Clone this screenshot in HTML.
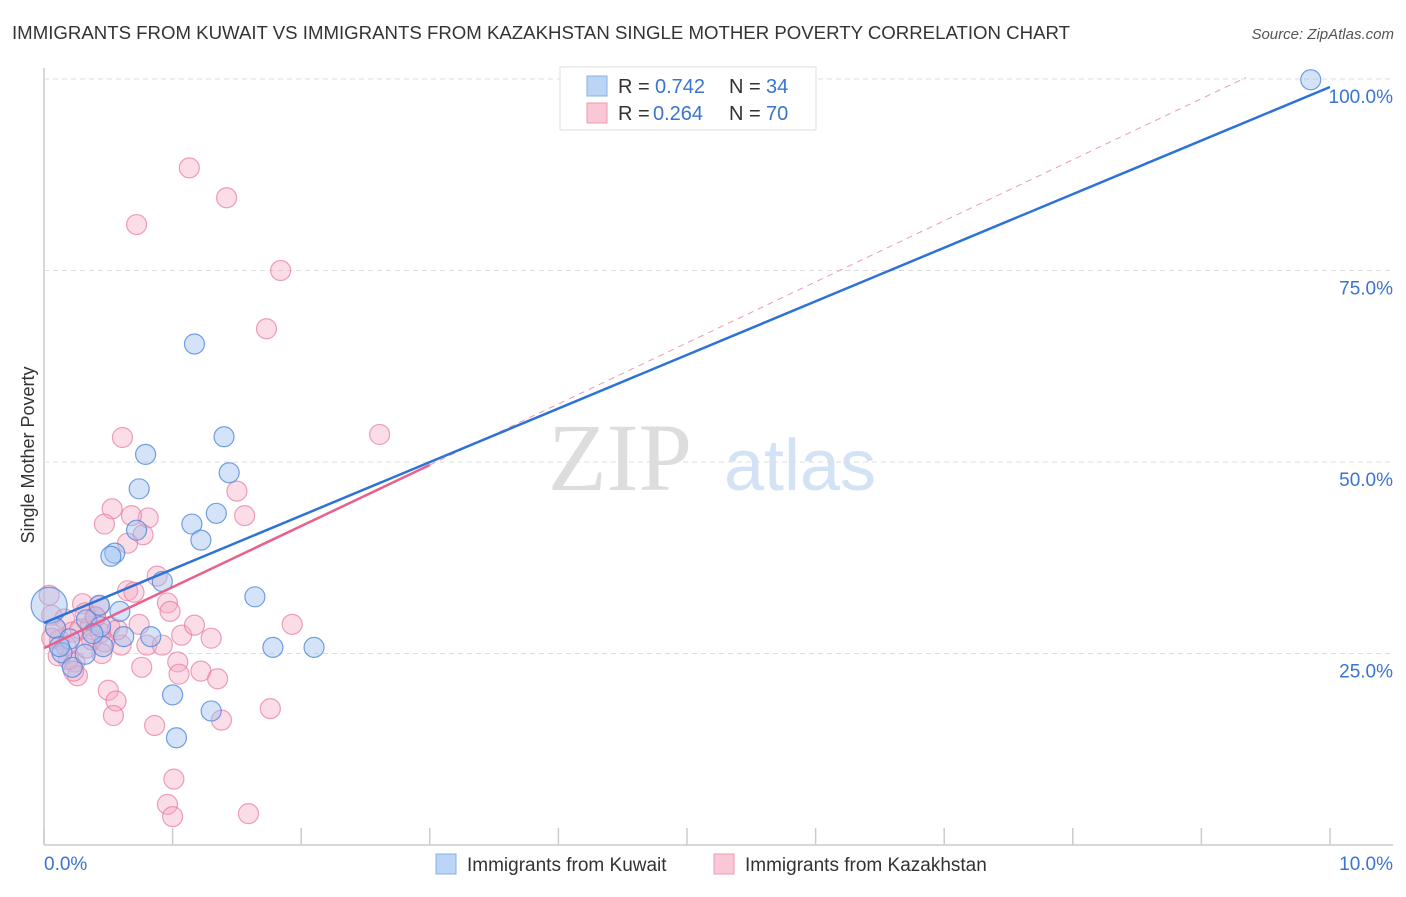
<!DOCTYPE html>
<html><head><meta charset="utf-8"><style>
body{margin:0;background:#fff;font-family:"Liberation Sans",sans-serif}
</style></head><body>
<svg id="c" width="1406" height="892" xmlns="http://www.w3.org/2000/svg" style="font-family:'Liberation Sans',sans-serif">
<text x="12" y="39" font-size="18" fill="#333" textLength="1058" lengthAdjust="spacingAndGlyphs">IMMIGRANTS FROM KUWAIT VS IMMIGRANTS FROM KAZAKHSTAN SINGLE MOTHER POVERTY CORRELATION CHART</text>
<text x="1394" y="39" font-size="15" fill="#555" font-style="italic" text-anchor="end">Source: ZipAtlas.com</text>
<text x="620" y="490" font-size="96" fill="#ddd" font-family="Liberation Serif" text-anchor="middle">ZIP</text>
<text x="800" y="490" font-size="72" fill="#d4e2f5" text-anchor="middle">atlas</text>
<text transform="translate(34,455) rotate(-90)" font-size="18" fill="#333" text-anchor="middle">Single Mother Poverty</text>
<g id="grid"></g><g id="pts"></g><g id="lines"></g>
<g>
<rect x="560" y="67" width="256" height="63" fill="#fff" stroke="#ddd"/>
<rect x="587" y="76" width="20" height="20" fill="#bcd4f5" stroke="#8ab0e8"/>
<rect x="587" y="103" width="20" height="20" fill="#f9c7d5" stroke="#f09ab3"/>
<text x="618" y="93" font-size="20" fill="#333">R =</text>
<text x="655" y="93" font-size="20" fill="#3a74d0">0.742</text>
<text x="729" y="93" font-size="20" fill="#333">N =</text>
<text x="766" y="93" font-size="20" fill="#3a74d0">34</text>
<text x="618" y="120" font-size="20" fill="#333">R =</text>
<text x="653" y="120" font-size="20" fill="#3a74d0">0.264</text>
<text x="729" y="120" font-size="20" fill="#333">N =</text>
<text x="766" y="120" font-size="20" fill="#3a74d0">70</text>
</g>
<g>
<rect x="436" y="854" width="20" height="20" fill="#bcd4f5" stroke="#8ab0e8"/>
<text x="467" y="871" font-size="19" fill="#333">Immigrants from Kuwait</text>
<rect x="714" y="854" width="20" height="20" fill="#f9c7d5" stroke="#f09ab3"/>
<text x="745" y="871" font-size="19" fill="#333">Immigrants from Kazakhstan</text>
</g>
</svg>
<script>
const yTicks=[25,50,75,100];
const yTickLabels=["25.0%","50.0%","75.0%","100.0%"];
const xTickLabels=["0.0%","10.0%"];
const blueX=[9.85,1.17,1.4,0.79,1.44,0.74,1.15,1.34,1.22,0.72,0.55,0.52,0.92,1.64,0.43,0.59,0.83,0.62,2.1,1.78,0.46,0.33,1.0,1.3,1.03,0.04,0.09,0.2,0.14,0.22,0.32,0.44,0.38,0.12];
const blueY=[99.9,65.4,53.3,51.0,48.6,46.5,41.9,43.3,39.8,41.1,38.1,37.7,34.4,32.4,31.3,30.5,27.2,27.2,25.8,25.8,25.9,29.4,19.6,17.5,14.0,31.3,28.3,26.9,25.1,23.2,24.9,28.5,27.6,25.9];
const pinkX=[1.13,1.42,0.72,1.84,1.73,2.61,0.61,1.5,0.53,0.47,0.81,0.68,1.56,0.77,0.65,0.88,0.65,0.7,0.96,0.98,0.43,0.3,1.93,1.07,1.17,1.3,0.74,0.8,0.92,0.6,1.04,0.76,1.05,1.22,1.35,0.45,0.5,0.56,0.54,0.86,1.38,1.76,1.01,0.96,1.0,1.59,0.06,0.09,0.12,0.24,0.26,0.19,0.04,0.16,0.22,0.28,0.36,0.4,0.51,0.57,0.33,0.37,0.11,0.17,0.23,0.06,0.44,0.32,0.4,0.47];
const pinkY=[88.4,84.5,81.0,75.0,67.4,53.6,53.2,46.2,43.9,41.9,42.7,43.0,43.0,40.5,39.4,35.1,33.2,33.0,31.6,30.5,31.2,31.5,28.8,27.4,28.7,27.0,28.8,26.1,26.1,26.1,23.9,23.2,22.3,22.7,21.7,25.0,20.2,18.8,16.9,15.6,16.3,17.8,8.6,5.3,3.7,4.1,30.0,28.3,26.8,23.9,22.1,24.2,32.6,29.5,27.8,28.2,28.6,29.8,28.5,28.1,25.7,26.8,24.7,26.0,22.7,27.0,27.7,30.3,29.8,26.5];
const blueLine=[29.0,98.96];
const pinkLine=[25.7,7.97];
const X=v=>44+v*128.6, Y=v=>845-v*7.66;
const ns="http://www.w3.org/2000/svg";
function mk(t,a,p){const e=document.createElementNS(ns,t);for(const k in a)e.setAttribute(k,a[k]);p.appendChild(e);return e;}
const g=document.getElementById('grid');
const ax=mk('line',{x1:44,y1:68,x2:44,y2:845,stroke:'#ccc','stroke-width':1.5},g);

const xa=mk('line',{x1:44,y1:845,x2:1393,y2:845,stroke:'#ccc','stroke-width':1.5},g);

for(let i=0;i<=10;i++){const t=mk('line',{x1:X(i),y1:845,x2:X(i),y2:828,stroke:'#ccc','stroke-width':1.5},g);
}
yTicks.forEach((v,i)=>{const l=mk('line',{x1:44,y1:Y(v),x2:1393,y2:Y(v),stroke:'#ddd','stroke-dasharray':'5,4'},g);

const t=mk('text',{x:1393,y:Y(v)+24,'font-size':19,fill:'#3a74d0','text-anchor':'end'},g);t.textContent=yTickLabels[i];
});
xTickLabels.forEach((s,i)=>{const t=mk('text',{x:i?1393:44,y:870,'font-size':19,fill:'#3a74d0','text-anchor':i?'end':'start'},g);t.textContent=s;
});
const p=document.getElementById('pts');
pinkX.forEach((x,i)=>{const c=mk('circle',{cx:X(x),cy:Y(pinkY[i]),r:10,fill:'rgba(246,170,194,0.4)',stroke:'rgba(232,120,156,0.7)','stroke-width':1.2},p);
});
blueX.forEach((x,i)=>{const c=mk('circle',{cx:X(x),cy:Y(blueY[i]),r:i==25?18:10,fill:'rgba(160,194,240,0.45)',stroke:'rgba(70,130,220,0.75)','stroke-width':1.2},p);
});
const L=document.getElementById('lines');
const d=mk('line',{x1:X(3),y1:Y(pinkLine[0]+3*pinkLine[1]),x2:X((100.2-pinkLine[0])/pinkLine[1]),y2:Y(100.2),stroke:'#ec9ab4','stroke-dasharray':'6,5','stroke-width':1},L);

const pl=mk('line',{x1:X(0),y1:Y(pinkLine[0]),x2:X(3),y2:Y(pinkLine[0]+3*pinkLine[1]),stroke:'#e8608c','stroke-width':2.5},L);

const bl=mk('line',{x1:X(0),y1:Y(blueLine[0]),x2:X(10),y2:Y(blueLine[1]),stroke:'#2e72d8','stroke-width':2.5},L);

</script>
</body></html>
